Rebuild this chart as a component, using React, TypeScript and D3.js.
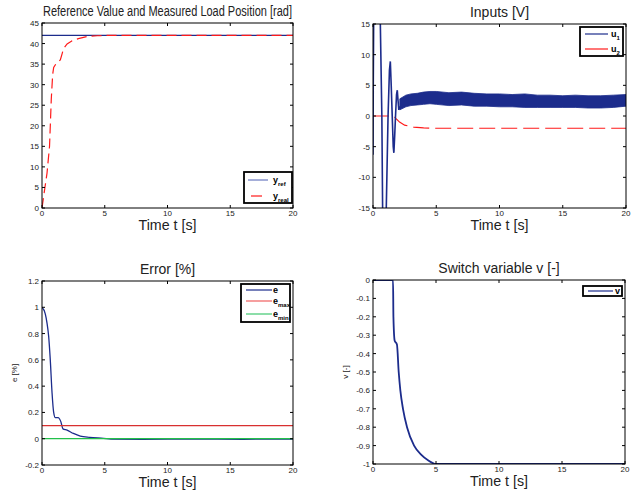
import React from "react";
import * as d3 from "d3";

// ---- data (time in seconds) ----
const timeTicks = [0, 5, 10, 15, 20];

// panel 1: reference value and measured load position [rad]
const yRef = [[0, 42], [20, 42]];
const yReal = [
  [0, 0], [0.13, 2.8], [0.4, 8.5], [0.6, 15], [0.74, 26.5], [0.85, 32.5],
  [0.93, 34.2], [1.14, 35.2], [1.46, 36], [1.6, 37.5], [1.72, 38.8],
  [2.0, 39.9], [2.4, 40.7], [2.9, 41.2], [3.6, 41.7], [4.4, 41.9],
  [5.5, 42.0], [20, 42.0],
];
const posTicks = [0, 5, 10, 15, 20, 25, 30, 35, 40, 45];

// panel 2: inputs [V]
const u1 = [
  [0, -6.3], [0.02, 5], [0.06, 18], [0.3, 24], [0.5, 19], [0.58, 15],
  [0.7, 0], [0.76, -15], [0.85, -22], [0.98, -17], [1.05, -15],
  [1.19, 0], [1.3, 7.5], [1.37, 8.9], [1.44, 5], [1.52, 0], [1.6, -5],
  [1.65, -6], [1.72, -3], [1.78, 0], [1.86, 3.5], [1.92, 4.2],
  [1.98, 2.5], [2.04, 1], [2.12, 1.6],
];
const u1BandT = [2.12, 2.6, 3, 3.5, 4, 4.5, 5, 6, 7, 8, 9, 10, 11, 12, 13, 14, 15, 16, 17, 18, 19, 20];
const u1BandHi = [2.8, 3.4, 3.6, 3.7, 3.9, 4.0, 4.0, 3.8, 3.9, 3.7, 3.6, 3.6, 3.5, 3.6, 3.4, 3.4, 3.3, 3.4, 3.3, 3.3, 3.4, 3.5];
const u1BandLo = [1.0, 1.5, 1.7, 1.8, 1.9, 2.0, 1.9, 1.7, 1.8, 1.6, 1.6, 1.5, 1.5, 1.4, 1.4, 1.4, 1.4, 1.4, 1.3, 1.3, 1.4, 1.6];
const u2 = [
  [0, 0], [1.65, 0], [1.8, -0.4], [2.1, -1.0], [2.5, -1.5], [3.2, -1.8],
  [4.0, -1.95], [5.0, -2.0], [20, -2.0],
];
const voltTicks = [-15, -10, -5, 0, 5, 10, 15];

// panel 3: error [%]
const eErr = [
  [0, 1.0], [0.26, 0.95], [0.4, 0.88], [0.53, 0.78], [0.66, 0.6],
  [0.8, 0.35], [0.93, 0.2], [1.06, 0.16], [1.3, 0.16], [1.4, 0.15],
  [1.5, 0.13], [1.67, 0.075], [2.0, 0.065], [2.5, 0.04], [3.05, 0.02],
  [3.8, 0.01], [4.9, 0.003], [5.5, -0.002], [8, -0.004], [12, -0.003],
  [16, -0.004], [20, -0.003],
];
const eMax = [[0, 0.1], [20, 0.1]];
const eMin = [[0, 0], [20, 0]];
const errTicks = [-0.2, 0, 0.2, 0.4, 0.6, 0.8, 1, 1.2];

// panel 4: switch variable v [-]
const vSwitch = [
  [0, 0], [1.59, 0], [1.62, -0.2], [1.72, -0.33], [1.9, -0.35],
  [2.04, -0.5], [2.17, -0.6], [2.38, -0.7], [2.7, -0.8], [3.26, -0.9],
  [3.84, -0.95], [4.37, -0.98], [5.0, -1.0], [20, -1.0],
];
const switchTicks = [-1, -0.9, -0.8, -0.7, -0.6, -0.5, -0.4, -0.3, -0.2, -0.1, 0];

const BLUE = "#1c2c8c";
const RED = "#ff1a1a";
const GREEN = "#22c04a";
const FONT = "'Liberation Sans', Arial, Helvetica, sans-serif";

const fmt = (v) => String(+v.toFixed(1));

function Panel({ id, x0, x1, y0, y1, yDomain, yTicks, title, titleLen, ylabel, xlabelY, render, legend }) {
  const x = d3.scaleLinear().domain([0, 20]).range([x0, x1]);
  const y = d3.scaleLinear().domain(yDomain).range([y1, y0]);
  const tl = 3;
  return (
    <g>
      <defs>
        <clipPath id={id}>
          <rect x={x0} y={y0} width={x1 - x0} height={y1 - y0} />
        </clipPath>
      </defs>
      <rect x={x0} y={y0} width={x1 - x0} height={y1 - y0} fill="#fff" />
      <g clipPath={`url(#${id})`}>{render(x, y)}</g>
      {/* ticks, inward, all four sides */}
      {timeTicks.map((t) => (
        <g key={"xt" + t}>
          <line x1={x(t)} x2={x(t)} y1={y1} y2={y1 - tl} stroke="#000" />
          <line x1={x(t)} x2={x(t)} y1={y0} y2={y0 + tl} stroke="#000" />
          <text x={x(t)} y={y1 + 8} fontSize={8} textAnchor="middle" fill="#222">{t}</text>
        </g>
      ))}
      {yTicks.map((v) => (
        <g key={"yt" + v}>
          <line x1={x0} x2={x0 + tl} y1={y(v)} y2={y(v)} stroke="#000" />
          <line x1={x1} x2={x1 - tl} y1={y(v)} y2={y(v)} stroke="#000" />
          <text x={x0 - 3} y={y(v) + 3} fontSize={8} textAnchor="end" fill="#222">{fmt(v)}</text>
        </g>
      ))}
      <rect x={x0} y={y0} width={x1 - x0} height={y1 - y0} fill="none" stroke="#000" strokeWidth={1} />
      <text
        x={(x0 + x1) / 2}
        y={y0 - 7}
        fontSize={14}
        textAnchor="middle"
        fill="#222"
        textLength={titleLen}
        lengthAdjust={titleLen ? "spacingAndGlyphs" : undefined}
      >
        {title}
      </text>
      <text x={(x0 + x1) / 2} y={xlabelY} fontSize={14.5} textAnchor="middle" fill="#222" textLength={58} lengthAdjust="spacingAndGlyphs">
        Time t [s]
      </text>
      {ylabel && (
        <text
          transform={`translate(${x0 - 25},${(y0 + y1) / 2}) rotate(-90)`}
          fontSize={8}
          textAnchor="middle"
          fill="#222"
        >
          {ylabel}
        </text>
      )}
      {legend}
    </g>
  );
}

function Legend({ x, y, w, h, items }) {
  return (
    <g>
      <rect x={x} y={y} width={w} height={h} fill="#fff" stroke="#000" strokeWidth={1.8} />
      {items.map((it) => (
        <g key={it.key}>
          <line x1={it.lx0} x2={it.lx1} y1={it.ly} y2={it.ly} stroke={it.color} strokeWidth={1.2} />
          <text x={it.tx} y={it.ly + 3} fontSize={9} fontWeight="bold" fill="#000">
            {it.label}
            {it.sub && (
              <tspan fontSize={6} dy={3}>{it.sub}</tspan>
            )}
          </text>
        </g>
      ))}
    </g>
  );
}

export default function App() {
  const line = (x, y) => d3.line().x((d) => x(d[0])).y((d) => y(d[1]));
  const smooth = (x, y) => d3.line().x((d) => x(d[0])).y((d) => y(d[1])).curve(d3.curveMonotoneX);

  return (
    <svg
      width={634}
      height={493}
      style={{ position: "absolute", left: 0, top: 0, background: "#fff" }}
      fontFamily={FONT}
    >
      <rect width={634} height={493} fill="#fff" />

      <Panel
        id="c1"
        x0={42}
        x1={293}
        y0={23}
        y1={208}
        yDomain={[0, 45]}
        yTicks={posTicks}
        title="Reference Value and Measured Load Position [rad]"
        titleLen={249}
        xlabelY={230}
        render={(x, y) => (
          <g>
            <path d={line(x, y)(yRef)} fill="none" stroke={BLUE} strokeWidth={1.2} />
            <path d={line(x, y)(yReal)} fill="none" stroke={RED} strokeWidth={1.2} strokeDasharray="10,5" />
          </g>
        )}
        legend={
          <Legend
            x={244}
            y={172}
            w={48}
            h={31}
            items={[
              { key: "a", color: "#6a78c0", lx0: 248, lx1: 268, ly: 180, tx: 273, label: "y", sub: "ref" },
              { key: "b", color: RED, lx0: 251, lx1: 262, ly: 196, tx: 273, label: "y", sub: "real" },
            ]}
          />
        }
      />

      <Panel
        id="c2"
        x0={373}
        x1={626}
        y0={24}
        y1={208}
        yDomain={[-15, 15]}
        yTicks={voltTicks}
        title="Inputs [V]"
        xlabelY={230}
        render={(x, y) => {
          const band = u1BandT.map((t, i) => [t, u1BandLo[i], u1BandHi[i]]);
          const area = d3.area().x((d) => x(d[0])).y0((d) => y(d[1])).y1((d) => y(d[2]));
          return (
            <g>
              <path d={line(x, y)(u2)} fill="none" stroke={RED} strokeWidth={1.2} strokeDasharray="16,6" />
              <path d={line(x, y)(u1)} fill="none" stroke={BLUE} strokeWidth={1.6} />
              <path d={area(band)} fill={BLUE} stroke={BLUE} strokeWidth={0.8} />
            </g>
          );
        }}
        legend={
          <Legend
            x={580}
            y={27}
            w={43}
            h={29}
            items={[
              { key: "a", color: BLUE, lx0: 585, lx1: 608, ly: 34, tx: 611, label: "u", sub: "1" },
              { key: "b", color: RED, lx0: 585, lx1: 608, ly: 49, tx: 611, label: "u", sub: "2" },
            ]}
          />
        }
      />

      <Panel
        id="c3"
        x0={42}
        x1={293}
        y0={281}
        y1={465}
        yDomain={[-0.2, 1.2]}
        yTicks={errTicks}
        title="Error [%]"
        ylabel="e [%]"
        xlabelY={487}
        render={(x, y) => (
          <g>
            <path d={smooth(x, y)(eErr)} fill="none" stroke={BLUE} strokeWidth={1.3} />
            <path d={line(x, y)(eMax)} fill="none" stroke="#d83030" strokeWidth={1.2} />
            <path d={line(x, y)(eMin)} fill="none" stroke={GREEN} strokeWidth={1.2} />
          </g>
        )}
        legend={
          <Legend
            x={241}
            y={284}
            w={49}
            h={38}
            items={[
              { key: "a", color: BLUE, lx0: 246, lx1: 272, ly: 290, tx: 273, label: "e" },
              { key: "b", color: "#f06060", lx0: 246, lx1: 272, ly: 301, tx: 273, label: "e", sub: "max" },
              { key: "c", color: "#40c870", lx0: 246, lx1: 272, ly: 314, tx: 273, label: "e", sub: "min" },
            ]}
          />
        }
      />

      <Panel
        id="c4"
        x0={373}
        x1={625}
        y0={280}
        y1={464}
        yDomain={[-1, 0]}
        yTicks={switchTicks}
        title="Switch variable v [-]"
        ylabel="v [-]"
        xlabelY={486}
        render={(x, y) => (
          <path d={smooth(x, y)(vSwitch)} fill="none" stroke={BLUE} strokeWidth={1.8} />
        )}
        legend={
          <Legend
            x={583}
            y={286}
            w={39}
            h={10}
            items={[{ key: "a", color: BLUE, lx0: 588, lx1: 613, ly: 291, tx: 615, label: "v" }]}
          />
        }
      />
    </svg>
  );
}
